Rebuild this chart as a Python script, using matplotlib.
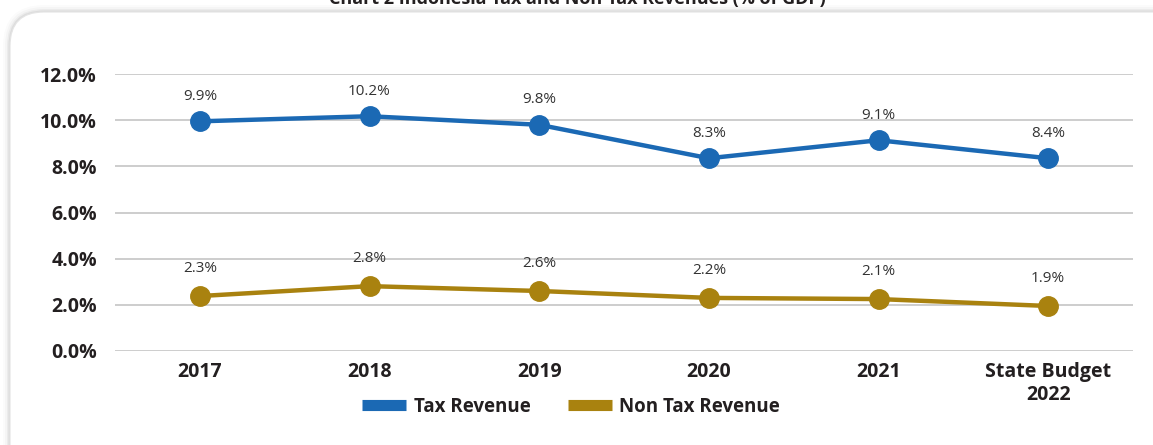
import matplotlib.pyplot as plt
from matplotlib.patches import FancyBboxPatch
from matplotlib.lines import Line2D
from matplotlib.ticker import FuncFormatter

# data (% of GDP)
categorias = ['2017', '2018', '2019', '2020', '2021', 'State Budget\n2022']
tax = [9.95, 10.17, 9.80, 8.35, 9.13, 8.35]
non_tax = [2.38, 2.81, 2.60, 2.30, 2.25, 1.95]
tax_labels = ['9.9%', '10.2%', '9.8%', '8.3%', '9.1%', '8.4%']
non_tax_labels = ['2.3%', '2.8%', '2.6%', '2.2%', '2.1%', '1.9%']
y_ticks = [0, 2, 4, 6, 8, 10, 12]

azul = '#1b69b4'
dorado = '#a9820f'
texto = '#231f20'

plt.rcParams['font.family'] = ['Open Sans', 'DejaVu Sans']

W, H = 1153, 445
fig = plt.figure(figsize=(W / 100, H / 100), dpi=100)

# fondo: caja redondeada con sombra suave (coordenadas en pixeles)
bg = fig.add_axes([0, 0, 1, 1], zorder=0)
bg.set_xlim(0, W)
bg.set_ylim(H, 0)
bg.axis('off')
for d, a in [(7, 0.015), (5, 0.025), (3, 0.04), (1.5, 0.06)]:
    bg.add_patch(FancyBboxPatch((10 - d, 12 - d), 1200 + 2 * d, 500,
                                boxstyle='round,pad=0,rounding_size=%d' % (34 + d),
                                facecolor='black', edgecolor='none', alpha=a))
bg.add_patch(FancyBboxPatch((10, 12), 1200, 500, boxstyle='round,pad=0,rounding_size=34',
                            facecolor='white', edgecolor='#e4e4e4', linewidth=0.8))

fig.text(577 / W, 441 / H, 'Chart 2 Indonesia Tax and Non-Tax Revenues (% of GDP)',
         ha='center', va='baseline', fontsize=13, fontweight='bold', color=texto)

ax = fig.add_axes([115 / W, 94 / H, (1133 - 115) / W, (351 - 74) / H], zorder=2)
ax.set_facecolor('none')
x = list(range(len(categorias)))

ax.plot(x, tax, color=azul, linewidth=3.2, marker='o', markersize=14, zorder=3)
ax.plot(x, non_tax, color=dorado, linewidth=3.2, marker='o', markersize=14, zorder=3)

for xi, v, t in zip(x, tax, tax_labels):
    ax.annotate(t, (xi, v), xytext=(0, 18), textcoords='offset points',
                ha='center', va='center', fontsize=11, color='#333333')
for xi, v, t in zip(x, non_tax, non_tax_labels):
    ax.annotate(t, (xi, v), xytext=(0, 20), textcoords='offset points',
                ha='center', va='center', fontsize=11, color='#333333')

ax.set_xlim(-0.5, 5.5)
ax.set_ylim(0, 12)
ax.set_yticks(y_ticks)
ax.yaxis.set_major_formatter(FuncFormatter(lambda v, p: f'{v:.1f}%'))
ax.set_xticks(x)
ax.set_xticklabels(categorias, linespacing=1.2)
ax.grid(True, axis='y', color='#c9c9c9', linewidth=1.3)
ax.set_axisbelow(True)
for s in ax.spines.values():
    s.set_visible(False)
ax.tick_params(axis='both', length=0, labelsize=14, colors=texto)
ax.tick_params(axis='y', pad=13)
ax.tick_params(axis='x', pad=8)
for lab in ax.get_xticklabels() + ax.get_yticklabels():
    lab.set_fontweight('bold')

handles = [Line2D([0], [0], color=azul, linewidth=8, solid_capstyle='butt'),
           Line2D([0], [0], color=dorado, linewidth=8, solid_capstyle='butt')]
leg = fig.legend(handles, ['Tax Revenue', 'Non Tax Revenue'], loc='center',
                 bbox_to_anchor=(571 / W, 38 / H), ncol=2, frameon=False,
                 handlelength=2.35, handletextpad=0.4, columnspacing=2.0,
                 prop={'weight': 'bold', 'size': 13.5})
leg.set_zorder(3)
for t in leg.get_texts():
    t.set_color(texto)

plt.savefig('out.png', dpi=100)
